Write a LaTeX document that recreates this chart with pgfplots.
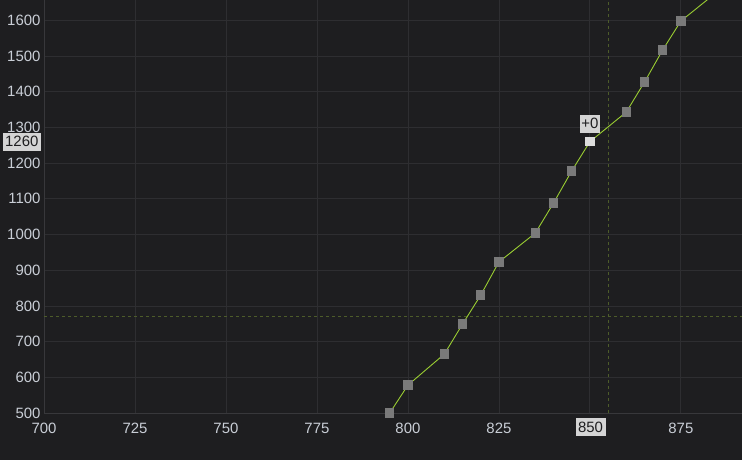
\documentclass[border=0pt]{standalone}
\usepackage{pgfplots}
\pgfplotsset{compat=1.18}
\usepackage{fontspec}
\setmainfont{Liberation Sans}
\definecolor{bg}{HTML}{1E1E20}
\definecolor{gridc}{HTML}{2E2E31}
\definecolor{axc}{HTML}{38383B}
\definecolor{tickc}{HTML}{C9CED6}
\definecolor{yg}{HTML}{9ACD32}
\definecolor{markc}{HTML}{7A7A7A}
\definecolor{hlc}{HTML}{DCDCDC}
\definecolor{lblc}{HTML}{D4D4D4}
\definecolor{lbltext}{HTML}{1E1E20}
\definecolor{dashc}{HTML}{4D5C2A}
\pgfplotstableread{
x y
795 500
800 578
810 665
815 749
820 830
825 923
835 1004
840 1088
845 1178
850 1260
860 1343
865 1427
870 1517
875 1598
885 1680
}\datatab
\begin{document}
\begin{tikzpicture}[x=1bp,y=1bp]
\fill[bg] (0,0) rectangle (742,460);
\useasboundingbox (0,0) rectangle (742,460);
\begin{axis}[
  at={(44bp,47bp)}, anchor=south west,
  scale only axis, width=698bp, height=413bp,
  xmin=700, xmax=891.8, ymin=500, ymax=1657,
  xtick={700,725,...,875}, ytick={500,600,...,1600},
  xticklabels={700,725,750,775,800,825,{},875},
  grid=major, major grid style={color=gridc, line width=0.8bp},
  axis x line*=bottom, axis y line*=left,
  axis line style={color=axc, line width=0.8bp},
  major tick length=0pt,
  tick label style={font=\fontsize{15}{18}\selectfont, color=tickc},
  xticklabel style={yshift=-7bp},
  /pgf/number format/assume math mode=true,
  /pgf/number format/set thousands separator={},
  clip mode=individual,
]
\addplot[dashc, dash pattern=on 3bp off 3bp, line width=1bp] coordinates {(855,500) (855,1657)};
\addplot[dashc, dash pattern=on 3bp off 3bp, line width=1bp] coordinates {(700,769) (891.8,769)};
\addplot[yg, line width=0.9bp, no marks] table[x=x, y=y] {\datatab};
\addplot[only marks, color=markc, mark=square*, mark size=4.2bp, mark options={fill=markc, draw=markc, line width=0pt}] table[x=x, y=y] {\datatab};
\addplot[only marks, color=hlc, mark=square*, mark size=4.2bp, mark options={fill=hlc, draw=hlc, line width=0pt}] coordinates {(850,1260)};
\node[fill=lblc, text=lbltext, inner sep=1.5bp, minimum height=18bp, anchor=south, yshift=9bp, font=\fontsize{15}{18}\selectfont] at (axis cs:850,1260) {+0};
\node[fill=lblc, text=lbltext, inner sep=1.5bp, minimum height=18bp, minimum width=38bp, align=right, anchor=east, xshift=-3bp, font=\fontsize{15}{18}\selectfont] at (axis cs:700,1260) {1260};
\end{axis}
\node[fill=lblc, text=lbltext, inner sep=1.5bp, minimum height=18bp, minimum width=30bp, anchor=center, font=\fontsize{15}{18}\selectfont] at (590.5,33) {850};
\end{tikzpicture}
\end{document}
